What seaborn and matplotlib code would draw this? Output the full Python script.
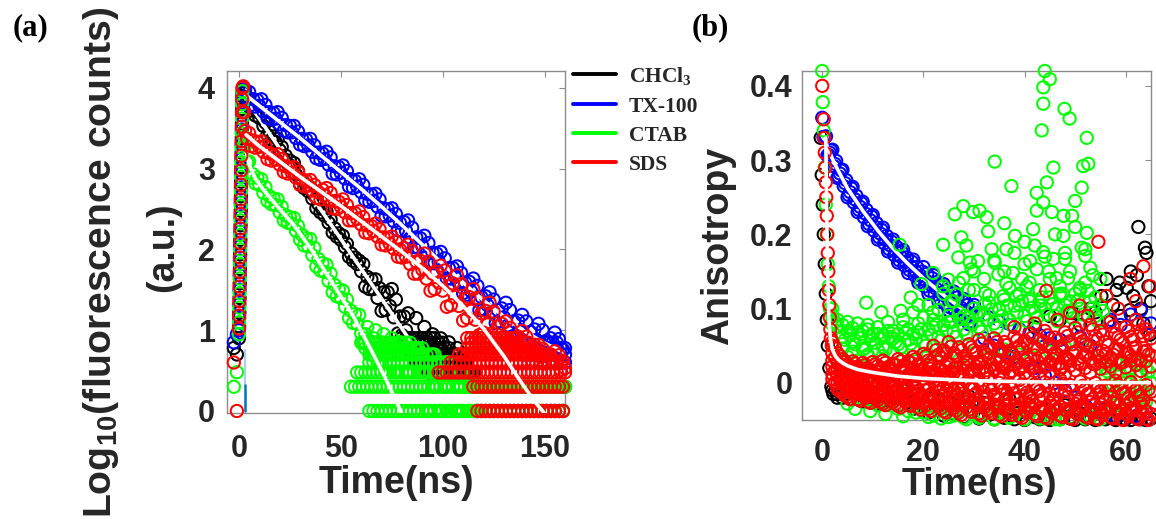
import numpy as np
import matplotlib
matplotlib.use("Agg")
import matplotlib.pyplot as plt
import seaborn as sns
from matplotlib.lines import Line2D

# ======================= panel (a) data =======================
t_a = np.arange(3, 160.5, 1)  # TCSPC channel times (ns), 3..160

black_a = [3.94, 3.83, 3.87, 3.72, 3.76, 3.66, 3.70, 3.63, 3.67, 3.53,
           3.57, 3.42, 3.46, 3.36, 3.40, 3.33, 3.37, 3.23, 3.27, 3.12,
           3.16, 3.06, 3.10, 3.03, 3.07, 2.93, 2.97, 2.81, 2.86, 2.76,
           2.80, 2.72, 2.77, 2.63, 2.67, 2.51, 2.56, 2.46, 2.50, 2.42,
           2.47, 2.33, 2.37, 2.21, 2.26, 2.16, 2.20, 2.12, 2.17, 2.03,
           2.07, 1.91, 1.95, 1.86, 1.90, 1.82, 1.86, 1.73, 1.82, 1.54,
           1.66, 1.51, 1.63, 1.51, 1.63, 1.40, 1.52, 1.24, 1.47, 1.25,
           1.47, 1.30, 1.51, 1.16, 1.38, 0.96, 1.17, 0.94, 1.17, 1.00,
           1.21, 0.85, 0.70, 0.90, 1.15, 0.85, 0.60, 0.85, 1.04, 0.78,
           0.48, 0.78, 0.95, 0.70, 0.48, 0.70, 0.90, 0.60, 0.48, 0.70,
           0.85, 0.60, 0.48, 0.70, 0.78, 0.48, 0.60, 0.70, 0.48, 0.60,
           0.48, 0.48, 0.30, 0.48, 0.00, 0.30, 0.00, 0.30, 0.00, 0.30,
           0.00, 0.30, 0.00, 0.30, 0.00, 0.30, 0.00, 0.30, 0.00, 0.30,
           0.00, 0.30, 0.00, 0.30, 0.00, 0.30, 0.00, 0.30, 0.00, 0.30,
           0.00, 0.30, 0.00, 0.30, 0.00, 0.30, 0.00, 0.30, 0.00, 0.30,
           0.00, 0.30, 0.00, 0.30, 0.00, 0.30, 0.00, 0.30]
blue_a = [3.98, 3.87, 3.95, 3.79, 3.86, 3.77, 3.85, 3.78, 3.86, 3.71,
          3.79, 3.63, 3.70, 3.61, 3.69, 3.62, 3.70, 3.55, 3.63, 3.47,
          3.54, 3.45, 3.53, 3.45, 3.53, 3.38, 3.46, 3.30, 3.37, 3.28,
          3.36, 3.29, 3.37, 3.21, 3.29, 3.13, 3.20, 3.11, 3.19, 3.12,
          3.21, 3.05, 3.14, 2.94, 3.03, 2.93, 3.02, 2.95, 3.04, 2.88,
          2.97, 2.78, 2.87, 2.76, 2.85, 2.78, 2.87, 2.71, 2.80, 2.61,
          2.69, 2.59, 2.68, 2.60, 2.69, 2.53, 2.62, 2.42, 2.51, 2.41,
          2.50, 2.42, 2.51, 2.35, 2.44, 2.24, 2.33, 2.23, 2.34, 2.23,
          2.36, 2.14, 2.27, 2.03, 2.15, 2.02, 2.14, 2.04, 2.17, 1.95,
          2.08, 1.83, 1.96, 1.83, 1.95, 1.85, 1.97, 1.76, 1.89, 1.64,
          1.77, 1.64, 1.77, 1.66, 1.79, 1.58, 1.71, 1.46, 1.59, 1.44,
          1.60, 1.48, 1.64, 1.39, 1.55, 1.25, 1.41, 1.26, 1.42, 1.31,
          1.47, 1.22, 1.38, 1.09, 1.25, 1.11, 1.27, 1.16, 1.34, 1.06,
          1.25, 0.92, 1.11, 0.93, 1.12, 1.00, 1.19, 0.91, 1.11, 0.78,
          0.98, 0.81, 1.01, 0.88, 1.08, 0.80, 1.00, 0.68, 0.87, 0.70,
          0.90, 0.77, 0.97, 0.70, 0.89, 0.60, 0.76, 0.60]
green_a = [3.28, 3.08, 3.09, 2.89, 2.93, 2.82, 2.89, 2.80, 2.87, 2.70,
           2.77, 2.60, 2.66, 2.56, 2.63, 2.55, 2.62, 2.46, 2.53, 2.36,
           2.42, 2.33, 2.40, 2.32, 2.39, 2.23, 2.29, 2.12, 2.18, 2.05,
           2.14, 2.04, 2.13, 1.93, 2.02, 1.79, 1.88, 1.74, 1.83, 1.72,
           1.81, 1.61, 1.70, 1.47, 1.56, 1.42, 1.51, 1.40, 1.49, 1.29,
           1.38, 1.15, 1.24, 1.09, 1.20, 1.08, 1.19, 0.96, 0.85, 0.95,
           1.04, 0.85, 0.70, 0.90, 1.00, 0.78, 0.60, 0.85, 0.95, 0.70,
           0.48, 0.78, 0.90, 0.60, 0.48, 0.70, 0.85, 0.60, 0.30, 0.78,
           0.48, 0.70, 0.30, 0.60, 0.78, 0.48, 0.30, 0.70, 0.48, 0.60,
           0.00, 0.48, 0.70, 0.30, 0.48, 0.60, 0.00, 0.48, 0.30, 0.60,
           0.00, 0.48, 0.30, 0.48, 0.00, 0.30, 0.48, 0.00, 0.30, 0.48,
           0.00, 0.30, 0.00, 0.30, 0.00, 0.30, 0.00, 0.30, 0.00, 0.30,
           0.00, 0.30, 0.00, 0.30, 0.00, 0.30, 0.00, 0.30, 0.00, 0.30,
           0.00, 0.30, 0.00, 0.30, 0.00, 0.30, 0.00, 0.30, 0.00, 0.30,
           0.00, 0.30, 0.00, 0.30, 0.00, 0.30, 0.00, 0.30, 0.00, 0.30,
           0.00, 0.30, 0.00, 0.30, 0.00, 0.30, 0.00, 0.30]
red_a = [3.47, 3.37, 3.44, 3.28, 3.35, 3.26, 3.33, 3.27, 3.34, 3.21,
         3.28, 3.12, 3.19, 3.10, 3.17, 3.11, 3.18, 3.05, 3.12, 2.96,
         3.03, 2.94, 3.01, 2.95, 3.02, 2.89, 2.96, 2.80, 2.87, 2.78,
         2.85, 2.79, 2.86, 2.73, 2.80, 2.64, 2.71, 2.62, 2.74, 2.67,
         2.76, 2.61, 2.70, 2.51, 2.60, 2.50, 2.59, 2.53, 2.62, 2.46,
         2.55, 2.36, 2.45, 2.36, 2.45, 2.38, 2.47, 2.31, 2.40, 2.21,
         2.30, 2.20, 2.29, 2.23, 2.32, 2.16, 2.25, 2.06, 2.15, 2.05,
         2.14, 2.07, 2.16, 2.01, 2.10, 1.91, 2.00, 1.90, 2.02, 1.91,
         2.06, 1.82, 1.98, 1.70, 1.85, 1.70, 1.86, 1.75, 1.95, 1.64,
         1.85, 1.49, 1.70, 1.51, 1.72, 1.59, 1.80, 1.49, 1.74, 1.29,
         1.55, 1.31, 1.58, 1.41, 1.68, 1.30, 1.57, 1.12, 1.39, 1.15,
         1.41, 1.24, 1.51, 1.13, 1.40, 0.94, 1.21, 0.97, 1.24, 1.07,
         1.34, 0.96, 1.23, 0.78, 1.05, 0.81, 1.08, 0.91, 1.11, 0.84,
         1.03, 0.71, 0.90, 0.73, 0.92, 0.80, 0.99, 0.72, 0.92, 0.60,
         0.79, 0.62, 0.82, 0.70, 0.82, 0.67, 0.77, 0.59, 0.69, 0.60,
         0.70, 0.64, 0.74, 0.59, 0.69, 0.51, 0.62, 0.53]

# rising edge / pre-pulse channels
t_rise = [-2.5, -1.0, 0.0, 0.1, 0.2, 0.3, 0.4, 0.5, 0.6, 0.7, 0.8,
          0.9, 1.0, 1.1, 1.2, 1.3, 1.4, 1.5, 1.6, 1.7, 2.1, 2.5]
black_rise = [0.78, 0.70, 0.90, 1.05, 1.22, 1.40, 1.58, 1.76, 1.94, 2.12, 2.30,
              2.48, 2.66, 2.84, 3.02, 3.20, 3.38, 3.56, 3.74, 3.90, 3.99, 3.95]
blue_rise = [0.85, 0.95, 1.00, 1.15, 1.32, 1.50, 1.68, 1.86, 2.04, 2.22, 2.40,
             2.58, 2.76, 2.94, 3.12, 3.30, 3.48, 3.66, 3.82, 3.95, 4.01, 3.98]
green_rise = [0.30, 0.48, 0.95, 1.10, 1.28, 1.46, 1.64, 1.82, 2.00, 2.18, 2.36,
              2.54, 2.72, 2.90, 3.08, 3.26, 3.44, 3.62, 3.80, 3.96, 3.70, 3.40]
red_rise = [0.60, 0.00, 1.02, 1.18, 1.36, 1.54, 1.72, 1.90, 2.08, 2.26, 2.44,
            2.62, 2.80, 2.98, 3.16, 3.34, 3.52, 3.70, 3.86, 4.00, 4.02, 3.70]

# low-count quantised rows: (log10 level, first channel, last channel)
black_rows = [(0.903, 80, 96), (0.845, 82, 100), (0.778, 83, 103), (0.699, 85, 107),
              (0.602, 87, 111), (0.477, 93, 115)]
blue_rows = [(0.845, 132, 156), (0.778, 136, 160), (0.699, 140, 160)]
green_rows = [(0.845, 60, 84), (0.778, 62, 90), (0.699, 64, 96), (0.602, 64, 104),
              (0.477, 58, 112), (0.301, 55, 118), (0.0, 64, 119)]
red_rows = [(0.903, 112, 136), (0.845, 114, 142), (0.778, 112, 147), (0.699, 108, 152),
            (0.602, 104, 158), (0.477, 98, 160), (0.301, 115, 160), (0.0, 117, 160)]

# fitted curves (white)
black_fit_t = [3, 10, 20, 30, 40, 50, 60, 70, 80, 88]
black_fit_v = [3.88, 3.62, 3.25, 2.88, 2.50, 2.13, 1.76, 1.39, 1.02, 0.72]
blue_fit_t = [3, 10, 20, 30, 40, 50, 60, 70, 80, 90, 100, 110, 120, 130, 140, 150, 160]
blue_fit_v = [3.92, 3.78, 3.58, 3.38, 3.17, 2.96, 2.75, 2.53, 2.30, 2.06, 1.82,
              1.59, 1.37, 1.17, 0.99, 0.84, 0.72]
green_fit_t = [3.5, 5, 8, 12, 20, 27, 35, 45, 56, 65, 72, 79, 82]
green_fit_v = [3.22, 3.05, 2.88, 2.74, 2.50, 2.30, 2.02, 1.62, 1.18, 0.75, 0.40, 0.02, -0.15]
red_fit_t = [3.5, 10, 20, 30, 40, 50, 60, 70, 80, 90, 100, 110, 120, 130, 136, 140, 145, 149, 152]
red_fit_v = [3.42, 3.28, 3.09, 2.90, 2.72, 2.54, 2.35, 2.16, 1.97, 1.77, 1.55,
             1.30, 1.02, 0.68, 0.45, 0.30, 0.12, 0.00, -0.10]
irf_t = [2.8, 2.8]
irf_v = [0.0, 0.32]
irf_faint_v = [0.32, 0.75]

# ======================= panel (b) data =======================
tb_fine = np.arange(0, 30.01, 0.5)
tb_fine2 = np.arange(0.25, 30, 0.5)
tb = np.arange(2, 65.1, 1)
tb_h = np.arange(2.5, 65, 1)
tb_late = np.arange(31, 65.1, 1)

blue_b1 = [0.357, 0.331, 0.306, 0.310, 0.314, 0.295, 0.276, 0.282, 0.287, 0.269,
           0.250, 0.257, 0.264, 0.247, 0.230, 0.237, 0.244, 0.228, 0.211, 0.219,
           0.226, 0.210, 0.193, 0.201, 0.209, 0.193, 0.177, 0.185, 0.193, 0.177,
           0.162, 0.170, 0.179, 0.163, 0.148, 0.157, 0.166, 0.150, 0.135, 0.144,
           0.156, 0.138, 0.120, 0.132, 0.145, 0.127, 0.109, 0.121, 0.133, 0.116,
           0.098, 0.111, 0.123, 0.106, 0.088, 0.101, 0.113, 0.096, 0.079, 0.092,
           0.105]
blue_b2 = [0.331, 0.332, 0.307, 0.313, 0.292, 0.299, 0.278, 0.286, 0.265, 0.273,
           0.253, 0.262, 0.243, 0.252, 0.233, 0.242, 0.223, 0.233, 0.214, 0.224,
           0.205, 0.215, 0.196, 0.206, 0.188, 0.198, 0.180, 0.190, 0.172, 0.183,
           0.165, 0.176, 0.158, 0.169, 0.152, 0.163, 0.145, 0.156, 0.139, 0.150,
           0.130, 0.147, 0.124, 0.141, 0.119, 0.136, 0.113, 0.130, 0.107, 0.125,
           0.102, 0.120, 0.097, 0.115, 0.092, 0.110, 0.087, 0.105, 0.083, 0.101]
blue_late = [0.095, 0.060, 0.088, 0.050, 0.082, 0.040, 0.078, 0.035, 0.072, 0.030,
             0.068, 0.020, 0.064, 0.010, 0.060, 0.000, 0.058, -0.010, 0.055, -0.020,
             0.062, -0.030, 0.050, -0.040, 0.070, -0.035, 0.085, -0.045, 0.078, -0.030,
             0.092, -0.045, 0.098, -0.040, 0.080]

red_b1 = [0.055, 0.040, 0.032, 0.025, 0.029, 0.022, 0.027, 0.020, 0.028, 0.023,
          0.030, 0.021, 0.026, 0.032, 0.023, 0.029, 0.035, 0.025, 0.039, 0.030,
          0.050, 0.038, 0.044, 0.055, 0.040, 0.048, 0.036, 0.052, 0.044, 0.058,
          0.041, 0.050, 0.060, 0.046, 0.055, 0.043, 0.062, 0.050, 0.057, 0.066,
          0.048, 0.058, 0.070, 0.052, 0.061, 0.049, 0.068, 0.056, 0.074, 0.060,
          0.052, 0.078, 0.063, 0.070, 0.055, 0.082, 0.066, 0.058, 0.075, 0.062,
          0.085, 0.068, 0.072, 0.060]
red_b2 = [0.040, 0.028, 0.020, 0.016, 0.011, 0.018, 0.012, 0.017, 0.009, 0.015,
          0.010, 0.019, 0.012, 0.008, 0.016, 0.011, 0.020, 0.013, 0.018, 0.024,
          0.014, 0.021, 0.016, 0.026, 0.019, 0.013, 0.024, 0.030, 0.018, 0.026,
          0.021, 0.032, 0.019, 0.028, 0.023, 0.034, 0.025, 0.018, 0.031, 0.026,
          0.037, 0.022, 0.033, 0.028, 0.040, 0.026, 0.035, 0.030, 0.042, 0.025,
          0.038, 0.032, 0.044, 0.029, 0.039, 0.034, 0.046, 0.031, 0.041, 0.036,
          0.048, 0.030, 0.043, 0.037]
red_b3 = [0.022, 0.010, 0.004, -0.002, 0.003, -0.004, 0.002, -0.006, 0.000, -0.003,
          -0.008, 0.001, -0.005, -0.010, -0.002, -0.007, 0.000, -0.011, -0.004, -0.009,
          0.002, -0.012, -0.006, 0.001, -0.010, -0.004, -0.014, -0.002, -0.008, 0.003,
          -0.012, -0.005, -0.016, 0.000, -0.009, -0.003, -0.014, 0.004, -0.007, -0.017,
          -0.002, -0.011, 0.001, -0.015, -0.006, 0.005, -0.012, -0.003, -0.018, 0.002,
          -0.009, -0.015, 0.000, -0.011, -0.004, -0.019, 0.003, -0.008, -0.014, 0.001,
          -0.010, -0.017, -0.003, -0.012]
red_b4 = [0.005, -0.008, -0.014, -0.019, -0.013, -0.022, -0.017, -0.025, -0.018, -0.023,
          -0.028, -0.020, -0.026, -0.031, -0.022, -0.029, -0.024, -0.033, -0.027, -0.035,
          -0.025, -0.031, -0.038, -0.028, -0.034, -0.040, -0.030, -0.036, -0.026, -0.041,
          -0.033, -0.038, -0.029, -0.043, -0.035, -0.040, -0.031, -0.045, -0.037, -0.030,
          -0.042, -0.034, -0.046, -0.038, -0.032, -0.044, -0.036, -0.047, -0.039, -0.031,
          -0.045, -0.037, -0.048, -0.040, -0.033, -0.046, -0.038, -0.049, -0.041, -0.034,
          -0.047, -0.039, -0.048, -0.042]
red_b5 = [0.030, 0.018, 0.012, 0.008, 0.006, 0.010, 0.005, 0.009, 0.004, 0.008,
          0.003, 0.007, 0.002, 0.006, 0.001, 0.008, 0.004, 0.010, 0.006, 0.012,
          0.008, 0.004, 0.011, 0.007, 0.014, 0.009, 0.005, 0.013, 0.010, 0.016,
          0.012, 0.007, 0.017, 0.011, 0.020, 0.014, 0.009, 0.019, 0.013, 0.022,
          0.016, 0.010, 0.021, 0.015, 0.024, 0.018, 0.012, 0.023, 0.017, 0.026,
          0.020, 0.014, 0.025, 0.019, 0.028, 0.022, 0.015, 0.027, 0.021, 0.030,
          0.024, 0.016, 0.029, 0.022]
red_b6 = [0.012, 0.000, -0.008, -0.011, -0.007, -0.014, -0.010, -0.016, -0.012, -0.015,
          -0.018, -0.013, -0.017, -0.021, -0.015, -0.019, -0.016, -0.022, -0.018, -0.024,
          -0.017, -0.021, -0.026, -0.019, -0.023, -0.028, -0.020, -0.025, -0.017, -0.029,
          -0.022, -0.027, -0.019, -0.031, -0.024, -0.028, -0.021, -0.033, -0.026, -0.020,
          -0.030, -0.024, -0.034, -0.027, -0.022, -0.032, -0.025, -0.035, -0.028, -0.021,
          -0.033, -0.026, -0.036, -0.029, -0.023, -0.034, -0.027, -0.037, -0.030, -0.024,
          -0.035, -0.028, -0.038, -0.031]
red_h1 = [0.048, 0.036, 0.028, 0.022, 0.026, 0.019, 0.024, 0.017, 0.025, 0.020,
          0.027, 0.018, 0.024, 0.029, 0.021, 0.027, 0.032, 0.023, 0.036, 0.028,
          0.044, 0.034, 0.040, 0.049, 0.036, 0.044, 0.033, 0.048, 0.040, 0.053,
          0.038, 0.046, 0.055, 0.042, 0.051, 0.040, 0.057, 0.046, 0.053, 0.061,
          0.045, 0.054, 0.064, 0.048, 0.057, 0.046, 0.063, 0.052, 0.068, 0.056,
          0.049, 0.072, 0.059, 0.065, 0.051, 0.076, 0.061, 0.054, 0.070, 0.058,
          0.079, 0.063, 0.067]
red_h2 = [0.034, 0.022, 0.015, 0.012, 0.014, 0.009, 0.013, 0.006, 0.012, 0.007,
          0.014, 0.005, 0.011, 0.016, 0.006, 0.013, 0.009, 0.016, 0.010, 0.019,
          0.011, 0.018, 0.022, 0.015, 0.021, 0.010, 0.027, 0.016, 0.022, 0.029,
          0.017, 0.025, 0.031, 0.021, 0.028, 0.016, 0.030, 0.023, 0.034, 0.020,
          0.030, 0.036, 0.024, 0.032, 0.038, 0.022, 0.033, 0.040, 0.027, 0.035,
          0.041, 0.026, 0.036, 0.043, 0.030, 0.038, 0.045, 0.028, 0.040, 0.047,
          0.033, 0.042, 0.038]
red_h3 = [0.016, 0.004, -0.003, -0.006, -0.001, -0.009, -0.004, -0.011, -0.006, -0.010,
          -0.013, -0.005, -0.012, -0.016, -0.008, -0.014, -0.006, -0.017, -0.010, -0.015,
          -0.005, -0.018, -0.011, -0.004, -0.016, -0.009, -0.020, -0.007, -0.014, -0.003,
          -0.018, -0.010, -0.022, -0.006, -0.015, -0.008, -0.021, -0.002, -0.013, -0.024,
          -0.008, -0.017, -0.004, -0.022, -0.011, -0.001, -0.019, -0.009, -0.025, -0.004,
          -0.015, -0.022, -0.006, -0.018, -0.010, -0.026, -0.003, -0.014, -0.021, -0.005,
          -0.017, -0.024, -0.009]
red_h4 = [0.000, -0.011, -0.017, -0.022, -0.016, -0.024, -0.020, -0.027, -0.021, -0.026,
          -0.030, -0.023, -0.028, -0.033, -0.025, -0.031, -0.027, -0.036, -0.030, -0.038,
          -0.028, -0.034, -0.040, -0.031, -0.037, -0.043, -0.033, -0.039, -0.029, -0.044,
          -0.036, -0.041, -0.032, -0.045, -0.038, -0.043, -0.034, -0.047, -0.040, -0.033,
          -0.045, -0.037, -0.048, -0.041, -0.035, -0.046, -0.039, -0.049, -0.042, -0.034,
          -0.047, -0.040, -0.049, -0.043, -0.036, -0.048, -0.041, -0.050, -0.044, -0.037,
          -0.049, -0.042, -0.050]
black_b = [-0.010, -0.015, -0.020, -0.012, -0.022, -0.017, -0.025, -0.014, -0.021, -0.028,
           -0.012, -0.024, -0.018, -0.030, -0.010, -0.026, -0.035, -0.015, -0.032, -0.040,
           -0.020, -0.036, -0.044, -0.025, -0.041, -0.030, -0.046, -0.018, -0.038, -0.048,
           -0.027, -0.043, -0.049, -0.033, -0.047, -0.022, -0.049, -0.040, -0.050, -0.030,
           -0.046, -0.049, -0.036, -0.050, -0.044, -0.049, -0.030, -0.048, -0.050, -0.041,
           -0.049, -0.046, -0.050, -0.035, -0.049, -0.047, -0.050, -0.043, -0.049, -0.050,
           -0.045, -0.049, -0.050, -0.048]
green_b1 = [0.090, 0.075, 0.062, 0.070, 0.055, 0.068, 0.050, 0.072, 0.058, 0.066,
            0.048, 0.070, 0.060, 0.052, 0.075, 0.058, 0.066, 0.080, 0.055, 0.072,
            0.085, 0.062, 0.078, 0.090, 0.068, 0.095, 0.072, 0.088, 0.100, 0.075,
            0.092, 0.108, 0.080, 0.098, 0.112, 0.085, 0.104, 0.120, 0.090, 0.110,
            0.095, 0.125, 0.100, 0.115, 0.090, 0.130, 0.105, 0.095, 0.120, 0.100,
            0.135, 0.110, 0.090, 0.105, 0.020, 0.000, 0.030, -0.010, 0.020, 0.000,
            0.030, -0.010, 0.020, 0.000]
green_b2 = [0.050, 0.040, 0.046, 0.035, 0.042, 0.030, 0.045, 0.038, 0.028, 0.044,
            0.036, -0.030, 0.040, -0.035, 0.032, -0.038, 0.045, -0.032, -0.040, 0.038,
            -0.044, -0.036, 0.042, -0.046, -0.040, 0.030, -0.047, -0.038, 0.040, -0.045,
            -0.042, 0.035, -0.048, -0.040, 0.045, -0.047, -0.043, 0.038, -0.049, -0.041,
            0.050, -0.046, -0.048, 0.042, -0.044, -0.049, 0.048, -0.046, -0.040, 0.052,
            -0.048, -0.045, 0.046, -0.049, -0.040, 0.000, -0.030, 0.010, -0.020, 0.000,
            -0.035, 0.010, -0.025, 0.000]
green_b3 = [0.100, 0.085, 0.078, 0.082, 0.074, 0.080, 0.070, 0.078, 0.066, 0.075,
            0.064, 0.082, 0.070, 0.066, 0.085, 0.072, 0.095, 0.068, 0.088, 0.105,
            0.075, 0.098, 0.120, 0.082, 0.110, 0.135, 0.090, 0.125, 0.150, 0.095,
            0.140, 0.118, 0.165, 0.100, 0.150, 0.128, 0.175, 0.105, 0.160, 0.135,
            0.185, 0.110, 0.170, 0.140, 0.200, 0.120, 0.175, 0.150, 0.210, 0.125,
            0.180, 0.155, 0.115, 0.140, 0.010, -0.020, 0.030, 0.000, -0.030, 0.020,
            0.010, -0.020, 0.030, 0.000]
green_h1 = [0.082, 0.068, 0.058, 0.064, 0.052, 0.060, 0.047, 0.063, 0.054, 0.060,
            0.045, 0.062, 0.055, 0.048, 0.067, 0.053, 0.060, 0.072, 0.050, 0.065,
            0.078, 0.057, 0.070, 0.082, 0.062, 0.086, 0.066, 0.080, 0.092, 0.069,
            0.085, 0.099, 0.074, 0.090, 0.104, 0.078, 0.095, 0.110, 0.083, 0.101,
            0.088, 0.115, 0.092, 0.106, 0.083, 0.120, 0.097, 0.087, 0.111, 0.092,
            0.124, 0.101, 0.083, 0.097, 0.015, -0.005, 0.025, -0.015, 0.015, -0.005,
            0.025, -0.015, 0.015]

green_out_t = [44.0, 45.0, 43.7, 43.7, 43.4, 47.9, 48.9, 52.3, 51.6, 52.6,
               34.1, 45.7, 44.4, 42.4, 37.4, 51.3, 50.0, 43.7, 27.9, 26.2,
               29.8, 31.1, 32.5, 42.4, 45.4, 47.7, 49.4, 41.7, 32.8, 27.5,
               23.9, 38.1, 47.7, 52.3, 15.3, 36.4, 43.7, 45.7, 48.0, 51.3,
               52.0, 26.9, 29.2, 30.8, 34.1, 41.1, 42.4, 21.9, 24.9, 27.9,
               29.5, 34.8, 36.4, 37.7, 46.3, 48.6, 50.9, 19.6, 23.9, 26.5,
               32.2, 40.4, 8.7, 11.7, 15.5, 21.9, 32.2, 35.8, 38.4, 41.1,
               43.1, 47.0, 17.5, 19.0, 25.5, 30.0, 39.5, 44.8, 46.5, 49.0,
               53.5, 33.5, 28.5, 36.0, 40.0]
green_out_v = [0.420, 0.409, 0.398, 0.376, 0.340, 0.369, 0.356, 0.330, 0.292, 0.295,
               0.298, 0.290, 0.270, 0.256, 0.265, 0.263, 0.245, 0.243, 0.238, 0.227,
               0.230, 0.232, 0.223, 0.232, 0.230, 0.225, 0.225, 0.207, 0.204, 0.196,
               0.186, 0.198, 0.198, 0.202, 0.186, 0.180, 0.176, 0.167, 0.167, 0.182,
               0.171, 0.169, 0.162, 0.164, 0.162, 0.164, 0.153, 0.148, 0.139, 0.141,
               0.153, 0.146, 0.134, 0.148, 0.141, 0.141, 0.128, 0.133, 0.130, 0.119,
               0.121, 0.130, 0.108, 0.095, 0.097, 0.095, 0.106, 0.117, 0.117, 0.113,
               0.104, 0.117, 0.115, 0.105, 0.110, 0.125, 0.140, 0.150, 0.100, 0.110,
               0.145, 0.180, 0.185, 0.215, 0.190]
green_low_t = [5, 6.5, 8, 9.5, 11, 12.5, 14, 16, 18.5, 21, 23.5, 26, 28.5, 31, 34, 37, 40, 43, 46]
green_low_v = [-0.028, -0.035, -0.022, -0.038, -0.030, -0.042, -0.025, -0.045, -0.040, -0.046,
               -0.048, -0.044, -0.049, -0.047, -0.049, -0.046, -0.049, -0.048, -0.049]
red_out_t = [54.6, 63.5, 64.8, 56.2, 50.9, 44.3, 60.9, 49.0, 58.5, 62.0, 52.5, 46.5, 38.0, 42.0]
red_out_v = [0.190, 0.157, 0.130, 0.117, 0.104, 0.124, 0.140, 0.094, 0.100, 0.110, 0.090, 0.085, 0.075, 0.080]
black_out_t = [47.0, 49.6, 51.0, 53.0, 55.2, 56.2, 57.5, 58.2, 59.0, 60.2, 61.0, 61.5, 62.5, 63.0,
               63.8, 64.1, 64.5, 65.0, 60.8, 62.2, 58.8, 45.0, 42.0, 54.0, 56.5, 64.8, 63.5]
black_out_v = [0.085, 0.094, 0.078, 0.100, 0.117, 0.140, 0.105, 0.125, 0.090, 0.128, 0.150, 0.117, 0.210, 0.100,
               0.182, 0.175, 0.130, 0.110, 0.098, 0.145, 0.135, 0.090, 0.075, 0.095, 0.082, 0.065, 0.080]

black_col_t = [-0.3, -0.1, 0.1, 0.3, 0.5, 0.7, 0.9, 1.1, 1.4, 1.8, 2.2, 2.6, 3.0]
black_col_v = [0.330, 0.280, 0.240, 0.200, 0.160, 0.120, 0.085, 0.050, 0.020, -0.005, -0.015, -0.010, -0.020]
green_col_t = [0.0, 0.1, 0.3, 0.5, 0.7, 0.9, 1.1, 1.3, 1.5, 1.8]
green_col_v = [0.420, 0.378, 0.340, 0.290, 0.240, 0.200, 0.160, 0.130, 0.100, 0.080]
red_col_t = [0.0, 0.3, 0.4, 0.5, 0.6, 0.7, 0.8, 0.9, 1.0, 1.1, 1.2, 1.3, 1.4, 1.5, 1.6, 1.7, 1.9]
red_col_v = [0.400, 0.355, 0.330, 0.310, 0.290, 0.270, 0.250, 0.225, 0.200, 0.175, 0.150,
             0.125, 0.105, 0.088, 0.072, 0.060, 0.050]

black_bfit_t = [0.2, 0.5, 0.8, 1.1, 1.4, 1.7, 3.0, 65]
black_bfit_v = [0.30, 0.20, 0.12, 0.06, 0.02, 0.0, 0.0, 0.0]
blue_bfit_t = [0.2, 1, 2, 3, 5, 8, 11, 14, 17, 20, 24, 28, 33, 40, 50, 65]
blue_bfit_v = [0.335, 0.318, 0.302, 0.288, 0.262, 0.232, 0.205, 0.181, 0.160, 0.141,
               0.118, 0.098, 0.078, 0.058, 0.038, 0.022]
red_bfit_t = [0.7, 0.9, 1.1, 1.3, 1.6, 2.0, 2.6, 3.2, 4.0, 5.0, 7.0, 10, 15, 20, 30, 40, 50, 65]
red_bfit_v = [0.33, 0.22, 0.14, 0.09, 0.06, 0.045, 0.036, 0.031, 0.027, 0.023, 0.018,
              0.014, 0.009, 0.006, 0.003, 0.0015, 0.0008, 0.0003]

series_names = ["CHCl$_\\mathrm{3}$", "TX-100", "CTAB", "SDS"]
series_colors = ["#000000", "#0000FF", "#00FF00", "#FF0000"]

# ======================= styling =======================
sns.set_theme(style="white")
plt.rcParams["font.family"] = ["Liberation Sans", "DejaVu Sans"]
plt.rcParams["mathtext.fontset"] = "custom"
plt.rcParams["mathtext.sf"] = "Liberation Sans:bold"
plt.rcParams["mathtext.rm"] = "Liberation Serif:bold"
plt.rcParams["mathtext.bf"] = "Liberation Serif:bold"

TXT = "#262626"
FRAME = "#8c8c8c"
MS = 78
MLW = 1.45
FITW = 2.6

fig = plt.figure(figsize=(11.56, 5.19), dpi=100)
W, H = 1156.0, 519.0
axA = fig.add_axes([226.7 / W, (H - 413) / H, (565 - 226.7) / W, (413 - 71) / H])
axB = fig.add_axes([802 / W, (H - 420) / H, (1151 - 802) / W, (420 - 71) / H])


def expand_rows(rows):
    xs, ys = [], []
    for lvl, t0, t1 in rows:
        tt = np.arange(t0, t1 + 0.01, 2.0)
        xs.append(tt)
        ys.append(np.full(tt.size, lvl))
    return np.concatenate(xs), np.concatenate(ys)


def pts(ax, x, y, c, z):
    sns.scatterplot(x=np.asarray(x, float), y=np.asarray(y, float), ax=ax, color=c,
                    facecolor="none", edgecolor=c, s=MS, linewidth=MLW,
                    clip_on=False, legend=False, zorder=z)


def fitline(ax, x, y, z, color="white", lw=FITW):
    sns.lineplot(x=np.asarray(x, float), y=np.asarray(y, float), ax=ax, color=color,
                 linewidth=lw, estimator=None, sort=False, errorbar=None, zorder=z,
                 legend=False)


# ---------------- panel (a) ----------------
a_data = [(black_a, black_rise, black_rows, black_fit_t, black_fit_v),
          (blue_a, blue_rise, blue_rows, blue_fit_t, blue_fit_v),
          (green_a, green_rise, green_rows, green_fit_t, green_fit_v),
          (red_a, red_rise, red_rows, red_fit_t, red_fit_v)]
for i, (vals, rise, rows, ft, fv) in enumerate(a_data):
    c = series_colors[i]
    rx, ry = expand_rows(rows)
    x = np.concatenate([np.asarray(t_rise, float), t_a, rx])
    y = np.concatenate([np.asarray(rise, float), np.asarray(vals, float), ry])
    pts(axA, x, y, c, 3 + 2 * i)
    fitline(axA, ft, fv, 4 + 2 * i)
fitline(axA, irf_t, irf_faint_v, 12, color="#a9cfea", lw=1.6)
fitline(axA, irf_t, irf_v, 12, color="#0072BD", lw=1.8)

axA.set_xlim(-6, 160)
axA.set_ylim(-0.025, 4.21)
axA.set_xticks([0, 50, 100, 150])
axA.set_yticks([0, 1, 2, 3, 4])

# ---------------- panel (b) ----------------
pts(axB, np.concatenate([black_col_t, tb, black_out_t]),
    np.concatenate([black_col_v, black_b, black_out_v]), series_colors[0], 3)
fitline(axB, black_bfit_t, black_bfit_v, 4)
pts(axB, np.concatenate([tb_fine, tb_fine2, tb_late]),
    np.concatenate([blue_b1, blue_b2, blue_late]), series_colors[1], 5)
fitline(axB, blue_bfit_t, blue_bfit_v, 6)
pts(axB, np.concatenate([green_col_t, tb, tb, tb, tb_h, green_out_t, green_low_t]),
    np.concatenate([green_col_v, green_b1, green_b2, green_b3, green_h1, green_out_v, green_low_v]),
    series_colors[2], 7)
pts(axB, np.concatenate([red_col_t, tb, tb, tb, tb, tb, tb, tb_h, tb_h, tb_h, tb_h, red_out_t]),
    np.concatenate([red_col_v, red_b1, red_b2, red_b5, red_b3, red_b6, red_b4,
                    red_h1, red_h2, red_h3, red_h4, red_out_v]),
    series_colors[3], 9)
fitline(axB, red_bfit_t, red_bfit_v, 10)

axB.set_xlim(-4, 65)
axB.set_ylim(-0.05, 0.42)
axB.set_xticks([0, 20, 40, 60])
axB.set_yticks([0, 0.1, 0.2, 0.3, 0.4])
axB.set_yticklabels(["0", "0.1", "0.2", "0.3", "0.4"])

for ax, xpad, ypad in [(axA, 15, 8.5), (axB, 13, 7)]:
    ax.set_xlabel("")
    ax.set_ylabel("")
    ax.set_facecolor("white")
    for sp in ax.spines.values():
        sp.set_color(FRAME)
        sp.set_linewidth(1.0)
        sp.set_visible(True)
    ax.tick_params(direction="in", top=True, right=True, length=4, width=0.8,
                   color=FRAME, labelcolor=TXT, labelsize=22)
    ax.tick_params(axis="x", pad=xpad)
    ax.tick_params(axis="y", pad=ypad)
    for lab in ax.get_xticklabels() + ax.get_yticklabels():
        lab.set_fontweight("bold")

# ---------------- texts ----------------
LBL = dict(fontsize=27, fontweight="bold", color=TXT, ha="center", va="center")
fig.text(396 / W, 1 - 483 / H, "Time(ns)", **LBL)
fig.text(979 / W, 1 - 485 / H, "Time(ns)", **LBL)
fig.text(718 / W, 1 - 246 / H, "Anisotropy", rotation=90, **LBL)
fig.text(101 / W, 1 - 262 / H, "Log$_{\\mathsf{10}}$(fluorescence counts)", rotation=90,
         **{**LBL, "fontsize": 28.3})
fig.text(163 / W, 1 - 247 / H, "(a.u.)", rotation=90, **LBL)

PAN = dict(fontsize=22, fontweight="bold", color="black", ha="center", va="center",
           family=["Liberation Serif", "DejaVu Serif"])
fig.text(30 / W, 1 - 28 / H, "(a)", **PAN)
fig.text(710 / W, 1 - 28 / H, "(b)", **PAN)

handles = [Line2D([], [], color=c, lw=2.8) for c in series_colors]
fig.legend(handles, series_names, loc="upper left", bbox_to_anchor=(573 / W, 1 - 65 / H),
           frameon=False, borderpad=0, borderaxespad=0, handlelength=2.0,
           handletextpad=0.6, labelspacing=0.42,
           prop={"family": ["Liberation Serif", "DejaVu Serif"], "weight": "bold", "size": 15.5})

fig.savefig("out.png", dpi=100, facecolor="white")
